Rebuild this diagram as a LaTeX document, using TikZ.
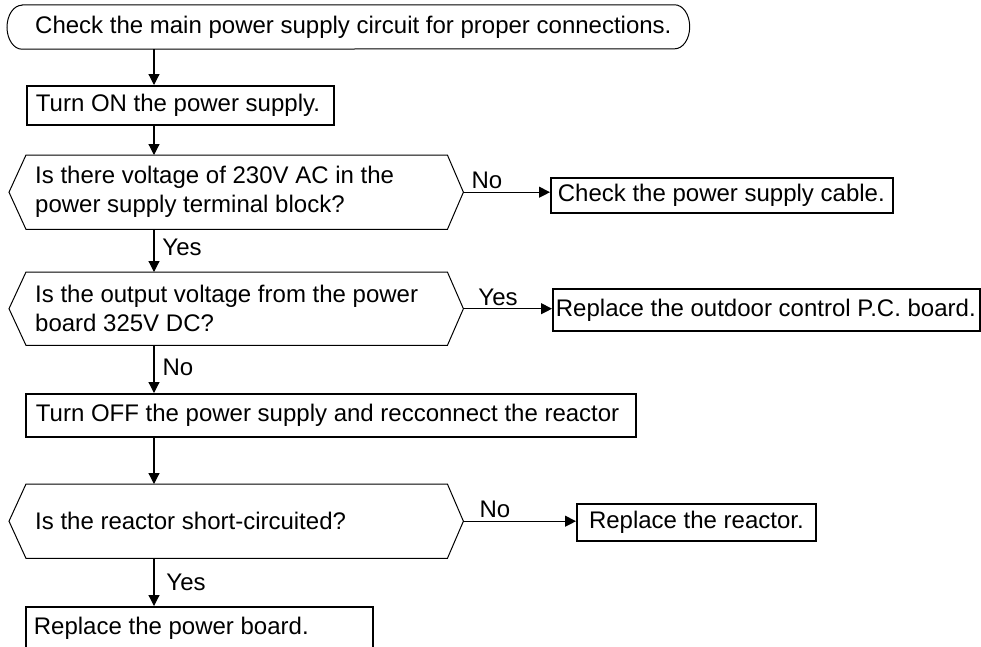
\documentclass[tikz,border=0pt]{standalone}
\usepackage{fontspec}
\setmainfont{Liberation Sans}
\usetikzlibrary{arrows.meta}
\newcommand\hexout[1]{%
  \draw[hexline] (#1.north west) -- (#1.north east) -- ([xshift=16pt]#1.east) -- (#1.south east) -- (#1.south west) -- ([xshift=-17pt]#1.west) -- cycle;
  \coordinate (#1r) at ([xshift=16pt]#1.east);}
\newcommand\lline[2]{\makebox[#1][l]{#2}}
\begin{document}
\begin{tikzpicture}[x=1pt,y=1pt,
  every node/.style={font=\fontsize{24pt}{29pt}\selectfont},
  rbox/.style={draw, line width=1.8pt, anchor=north west, inner ysep=0pt},
  hexn/.style={anchor=north west, inner xsep=9pt, inner ysep=0pt, align=left, minimum height=#1},
  hexline/.style={line width=1pt, line join=miter},
  arr/.style={line width=1.2pt, -{Triangle[length=11pt,width=11pt]}},
  lbl/.style={inner sep=0pt, anchor=center}]
\useasboundingbox (0,0) rectangle (981,-646);
\fill[white] (0,0) rectangle (981,-646);

% terminator
\node[anchor=west, inner xsep=0pt, inner ysep=0pt, minimum height=44pt] (start) at (35,-27) {Check the main power supply circuit for proper connections.};
\draw[line width=1pt] ([xshift=-13pt]start.north west) -- ([xshift=3pt]start.north east)
  arc[start angle=90,end angle=-90,x radius=15pt,y radius=22pt]
  -- ([xshift=-13pt]start.south west)
  arc[start angle=270,end angle=90,x radius=15pt,y radius=22pt] -- cycle;

\node[rbox, inner xsep=9pt, minimum height=39pt] (on) at (26,-85) {\lline{289pt}{Turn ON the power supply.}};

\node[hexn=74pt] (q1) at (26,-155) {\lline{403pt}{Is there voltage of 230V AC in the}\\power supply terminal block?};
\hexout{q1}
\node[hexn=73pt] (q2) at (26,-272) {\lline{403pt}{Is the output voltage from the power}\\board 325V DC?};
\hexout{q2}
\node[hexn=74pt] (q3) at (26,-484) {\lline{403pt}{Is the reactor short-circuited?}};
\hexout{q3}

\node[rbox, inner xsep=7pt, minimum height=35pt] (cable) at (550,-177) {\lline{328pt}{Check the power supply cable.}};
\node[rbox, inner xsep=1pt, minimum height=42pt] (pc) at (552,-288) {\lline{425pt}{\hspace{2pt}Replace the outdoor control P.C. board.}};
\node[rbox, inner xsep=10pt, minimum height=43pt] (off) at (25,-393) {\lline{590pt}{Turn OFF the power supply and recconnect the reactor}};
\node[rbox, inner xsep=7pt, minimum height=37pt] (reactor) at (576,-503) {\makebox[225pt][c]{Replace the reactor.}};
\node[rbox, inner xsep=8pt, minimum height=42pt] (board) at (25,-606) {\lline{331pt}{Replace the power board.}};

\coordinate (col) at (154,0);
\draw[arr] (start.south -| col) -- (on.north -| col);
\draw[arr] (on.south -| col) -- (q1.north -| col);
\draw[arr] (q1r) -- (q1r -| cable.west);
\draw[arr] (q1.south -| col) -- (q2.north -| col);
\draw[arr] (q2r) -- (q2r -| pc.west);
\draw[arr] (q2.south -| col) -- (off.north -| col);
\draw[arr] (off.south -| col) -- (q3.north -| col);
\draw[arr] (q3r) -- (q3r -| reactor.west);
\draw[arr] (q3.south -| col) -- (board.north -| col);

\node[lbl] (n1) at (487,-180) {No};
\node[lbl] (y1) at (182,-247) {Yes};
\node[lbl] (y2) at (498,-297) {Yes};
\node[lbl] (n2) at (178,-367) {No};
\node[lbl] (n3) at (495,-509) {No};
\node[lbl] (y3) at (186,-582) {Yes};
\end{tikzpicture}
\end{document}
